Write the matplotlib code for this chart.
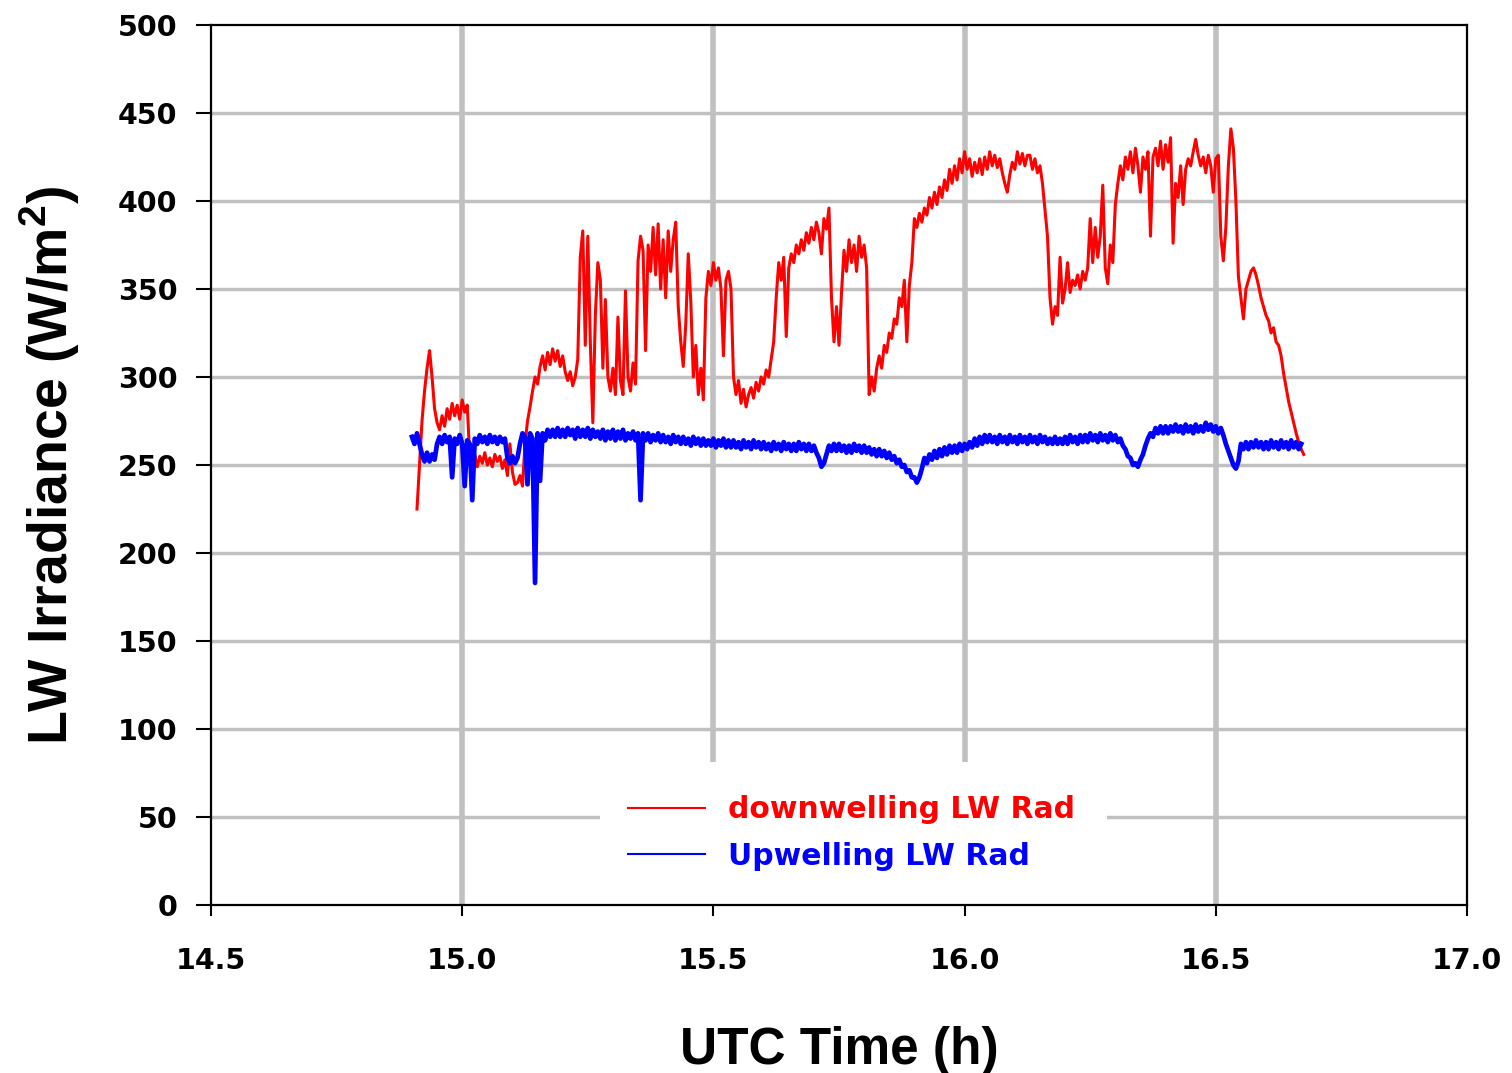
import numpy as np
import matplotlib.pyplot as plt
from matplotlib.patches import Rectangle

# sampling of the two records (hours UTC)
down_start = 14.910
up_start = 14.900
step = 0.005

# downwelling LW irradiance (W/m2), every 0.005 h
down_lw = [
    225, 250, 275, 292, 305, 315, 300, 282, 274, 270, 278, 272, 282, 276, 285, 278, 284, 276, 287, 280,
    284, 255, 250, 256, 249, 255, 251, 257, 250, 254, 249, 256, 252, 255, 248, 253, 244, 262, 246, 239,
    240, 244, 238, 262, 275, 283, 292, 300, 296, 306, 312, 304, 314, 307, 316, 309, 315, 306, 312, 303,
    298, 303, 295, 300,
    310, 368, 383, 318, 380, 320, 274, 335, 365, 355, 305, 344, 300, 292, 305, 290, 334, 298, 290, 349,
    300, 292, 308, 296, 366, 380, 372, 315, 375, 360, 385, 358, 387, 350, 378, 345, 383, 360, 378, 388,
    340, 320, 306, 330, 370, 343, 300, 318, 290, 305, 287, 345, 360, 352, 365, 355, 362, 350, 312, 355,
    360, 350, 300, 290, 298, 285, 293, 283, 290, 294, 288, 297, 292, 300, 296, 304, 300, 310, 320, 345,
    365, 355, 368, 323, 362, 370, 365, 375, 370, 378, 372, 382, 376, 385, 378, 388, 382, 370, 390, 384,
    396, 345, 320, 340, 318, 348, 372, 360, 378, 365, 375, 360, 380, 368, 375, 362, 290, 300, 292, 305,
    312, 305, 318, 314, 325, 322, 333, 330, 345, 340, 355, 320, 352, 365, 390, 385, 393, 388, 396, 392,
    402, 396, 405, 398, 408, 402, 412, 406, 418, 410, 420, 412, 424, 416, 428, 418, 424, 414, 422, 416,
    424, 415, 425, 418, 428, 420, 426, 419, 424, 416, 410, 405, 415, 422, 418, 428, 421, 427, 420, 426,
    426, 418, 424, 416, 420, 410, 395, 380, 345, 330, 340, 335, 368, 342, 350, 365, 348, 355, 352, 358,
    350, 360, 355, 362, 390, 365, 385, 368, 380, 409, 362, 353, 375, 365, 398, 410, 420, 412, 425, 418,
    428, 416, 430, 420, 405, 425, 418, 428, 380, 425, 430, 420, 434, 418, 432, 422, 436, 376, 410, 402,
    420, 398, 418, 424, 420, 428, 435, 426, 420, 425, 416, 426, 420, 405, 424, 426, 380, 366, 385, 420,
    441, 430, 400, 357, 345, 333, 350, 355, 360, 362, 358, 352, 345, 340, 335, 332, 325, 328, 320, 318,
    312, 302, 294, 286, 280, 274, 268, 263, 259, 256,
]

# upwelling LW irradiance (W/m2), every 0.005 h
up_lw = [
    266, 262, 268, 262, 256, 252, 257, 252, 256, 253, 262, 266, 262, 267, 263, 266, 243, 265, 262, 267,
    262, 238, 264, 262, 230, 265, 262, 267, 263, 266, 262, 267, 263, 266, 262, 266, 263, 265, 254, 251,
    255, 251, 254, 262, 268, 266, 239, 268, 265, 183, 268, 241, 268, 264, 270, 266, 270, 266, 271, 266,
    270, 266, 271, 267, 270, 265, 271, 266, 270, 266, 271, 265, 270, 266, 269, 265, 270, 264, 269, 265,
    270, 264, 269, 265, 270, 264, 268, 265, 269, 264, 268, 230, 268, 264, 268, 263, 267, 264, 268, 263,
    267, 263, 266, 262, 267, 263, 266, 262, 266, 262, 265, 261, 266, 262, 265, 261, 265, 261, 264, 261,
    265, 260, 264, 261, 265, 260, 264, 260, 264, 260, 263, 259, 264, 260, 263, 259, 264, 260, 263, 259,
    263, 259, 262, 258, 263, 259, 262, 258, 263, 259, 262, 258, 262, 258, 263, 259, 262, 258, 262, 258,
    261, 257, 254, 249, 251, 256, 261, 258, 262, 258, 262, 258, 261, 257, 261, 257, 262, 258, 261, 257,
    261, 257, 260, 256, 259, 255, 259, 255, 258, 254, 257, 253, 255, 251, 253, 249, 250, 246, 247, 243,
    243, 240, 243, 248, 254, 251, 256, 253, 258, 254, 259, 255, 260, 256, 261, 257, 261, 257, 262, 258,
    262, 259, 263, 260, 265, 261, 266, 262, 267, 263, 267, 263, 266, 262, 267, 263, 266, 262, 267, 263,
    266, 262, 267, 263, 266, 262, 267, 263, 266, 262, 267, 263, 266, 262, 265, 262, 266, 262, 265, 262,
    266, 262, 267, 263, 266, 262, 267, 263, 267, 263, 268, 264, 267, 263, 268, 264, 267, 263, 268, 264,
    267, 263, 265, 261, 259, 255, 254, 250, 251, 249, 253, 256, 261, 265, 268, 266, 271, 268, 272, 268,
    272, 268, 272, 269, 273, 269, 272, 268, 273, 269, 272, 268, 273, 269, 272, 269, 274, 270, 273, 269,
    272, 268, 271, 267, 262, 258, 254, 250, 248, 252, 262, 259, 263, 259, 263, 260, 264, 260, 263, 259,
    263, 259, 264, 260, 263, 259, 264, 260, 263, 259, 264, 260, 263, 259, 262,
]

x_ticks = [14.5, 15.0, 15.5, 16.0, 16.5, 17.0]
y_ticks = [0, 50, 100, 150, 200, 250, 300, 350, 400, 450, 500]

t_down = down_start + step * np.arange(len(down_lw))
t_up = up_start + step * np.arange(len(up_lw))

fig = plt.figure(figsize=(15.12, 10.73), dpi=100)
ax = fig.add_axes([211 / 1512, 1 - 905 / 1073, 1256 / 1512, 880 / 1073])
ax.set_axisbelow(True)

ax.plot(t_down, down_lw, color='#ff0000', lw=2.2, label='downwelling LW Rad', zorder=3)
ax.plot(t_up, up_lw, color='#0000ff', lw=3.4, label='Upwelling LW Rad', zorder=4)

ax.set_xlim(14.5, 17.0)
ax.set_ylim(0, 500)
ax.set_xticks(x_ticks)
ax.set_yticks(y_ticks)
ax.set_xticklabels([f'{v:.1f}' for v in x_ticks])

for v in x_ticks[1:-1]:
    ax.axvline(v, color='#c0c0c0', lw=4, zorder=0.5)
for v in y_ticks[1:-1]:
    ax.axhline(v, color='#c0c0c0', lw=2.5, zorder=0.5)

# white box behind the legend
ax.add_patch(Rectangle((0.3097, 0.0), 0.404, 0.1625, transform=ax.transAxes,
                       facecolor='white', edgecolor='none', zorder=1))

for s in ax.spines.values():
    s.set_linewidth(1.6)
    s.set_zorder(5)

ax.tick_params(axis='y', direction='out', length=11, width=1.5, pad=13)
ax.tick_params(axis='x', direction='out', length=8, width=1.5, pad=22)
for lab in ax.get_xticklabels() + ax.get_yticklabels():
    lab.set_fontfamily('DejaVu Sans')
    lab.set_fontweight('bold')
    lab.set_fontsize(20.5)

ax.set_xlabel('UTC Time (h)', family='Liberation Sans', weight='bold', fontsize=37, labelpad=37)
ax.set_ylabel('LW Irradiance (W/m$^{\\mathregular{2}}$)', family='Liberation Sans',
              weight='bold', fontsize=40, labelpad=26)

leg = ax.legend(loc='upper left', bbox_to_anchor=(0.320, 0.142), frameon=False,
                borderpad=0, handlelength=2.6, handletextpad=0.75, labelspacing=0.6,
                prop={'family': 'DejaVu Sans', 'weight': 'bold', 'size': 21.5},
                labelcolor='linecolor')
for line in leg.get_lines():
    line.set_linewidth(1.5)

fig.savefig('out.png', dpi=100)
